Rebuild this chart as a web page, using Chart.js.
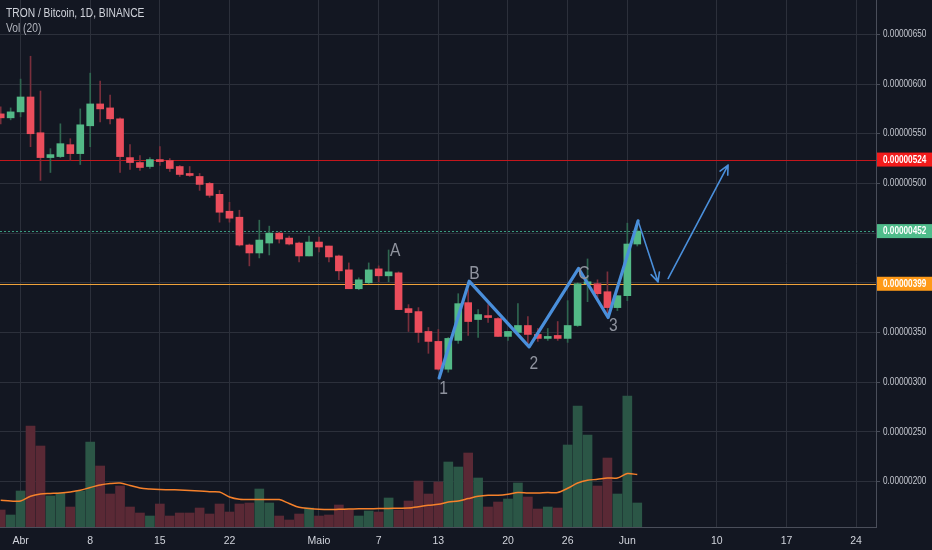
<!DOCTYPE html>
<html>
<head>
<meta charset="utf-8">
<script src="https://cdn.jsdelivr.net/npm/chart.js@4.4.1/dist/chart.umd.min.js"></script>
<style>
html,body{margin:0;padding:0;background:#131722;}
#wrap{width:932px;height:550px;}
</style>
</head>
<body>
<div id="wrap"><canvas id="chart" width="932" height="550"></canvas></div>
<script>

// daily candles from 30 Mar to 2 Jun, prices in units of 0.00000001 BTC
const opens=[570,566,572,587,551,526,527,539,530,558,580,576,565,526,521,517,524,523,517,510,507,500,489,472,466,438,430,440,450,445,440,427,441,437,427,413,394,400,414,407,410,374,371,351,341,313,342,380,363,367,364,346,350,357,348,344,347,344,357,399,399,391,375,387,439]
const highs=[577,576,605,628,593,535,560,545,575,611,603,589,566,539,528,526,537,525,518,517,510,501,493,481,473,439,463,457,451,447,441,447,446,437,428,420,405,420,417,433,411,378,375,355,353,345,389,393,373,378,365,351,379,366,354,354,361,382,400,424,403,411,387,460,462]
const lows=[560,564,567,537,503,511,526,523,519,537,562,560,511,514,513,515,518,512,507,507,493,486,461,461,437,417,425,428,440,438,421,427,431,421,403,394,393,399,401,401,373,351,340,329,312,310,339,347,345,360,346,342,350,339,341,342,342,340,356,381,383,366,372,382,437]
const closes=[566,572,587,550,526,529,540,530,559,580,575,565,527,521,516,524,522,515,509,508,499,488,471,465,438,430,443,450,444,439,427,441,436,426,412,394,403,413,407,411,373,370,350,341,313,344,379,361,368,365,346,351,357,348,344,346,344,357,399,401,389,375,387,439,452]
const volumes=[17,12,36,101,81,31,34,20,36,85,61,33,41,20,14,11,23,11,14,14,19,13,23,15,23,24,38,24,11,7,13,19,11,12,22,17,11,16,15,29,17,26,46,33,45,65,60,74,49,20,25,28,44,30,18,20,19,82,121,92,41,69,33,131,24]
const volMA=[26.7,26,26,30.7,33,33.5,34,35,36.7,39.5,42,43.5,44,41.5,39,38,37.5,37.3,37,36.5,36,35.3,35,30,27.7,27.6,27.5,27.4,27.4,23.5,19.7,18.5,17.7,17.4,17.7,18,18.2,18.3,18.4,18.6,18.8,19,20.2,21.7,22.7,25,26,28.4,30.7,31.7,31.7,32.7,34.4,34,34,34.4,34.4,38.7,44,46.7,47.7,49,49,53.4,52.4]

const tickDays=[2,9,16,23,32,38,44,51,57,63,72,79,86]
const tickLabels=["Abr","8","15","22","Maio","7","13","20","26","Jun","10","17","24"]

const levelPrices=[524,452,399]
const levelLineColors=["#c4161c","#3a9a7e","#f0a33a"]
const levelBoxColors=["#f21b1b","#4fbc8b","#ff9a18"]
const levelDashes=[[],[2,2],[]]

// drawn wave, arrows and labels (day index, price)
const waveX=[44.08,47.1,53.13,58.1,61.07,64.08]
const waveY=[304.2,401.6,335.5,414.4,365.1,462.3]
const arrowDownX=[64.08,66.09]
const arrowDownY=[462.3,400.9]
const arrowUpX=[67.1,73.13]
const arrowUpY=[404.3,518.4]
const waveLabels=["A","B","C","1","2","3"]
const waveLabelX=[39.66,47.64,58.62,44.52,53.6,61.6]
const waveLabelY=[432.5,409,409,293.2,318,356.5]

const titleText="TRON / Bitcoin, 1D, BINANCE"
const volText="Vol (20)"

const UP="#53b987",DOWN="#eb4d5c"
const FONT="'Liberation Sans',Arial,sans-serif"
const NARROW=0.82
const gridColor="#2c303b"
const axisColor="#4a4e5a"

let up=opens.map((o,i)=>closes[i]>=o)
let wickData=opens.map((o,i)=>({x:i,y:[lows[i],highs[i]]}))
let bodyData=opens.map((o,i)=>({x:i,y:[o,closes[i]]}))
let volData=volumes.map((v,i)=>({x:i,y:v}))
let maData=volMA.map((v,i)=>({x:i,y:v}))

function fmt(v){
return (v/1e8).toFixed(8)
}

// squeeze text sideways, the screenshot font is a narrow one
function narrowText(ctx,t,x,y){
ctx.save()
ctx.translate(x,y)
ctx.scale(NARROW,1)
ctx.fillText(t,0,0)
ctx.restore()
}

const background={
id:"background",
beforeDraw(chart){
let ctx=chart.ctx
ctx.save()
ctx.fillStyle="#131722"
ctx.fillRect(0,0,chart.width,chart.height)
ctx.restore()
let s=chart.scales.y
if(!s._narrow){
let draw=s.drawLabels
s.drawLabels=function(area){
let x0=this.left+4+3,r=this.right
this.right=3000
this.ctx.save()
this.ctx.translate(x0*(1-NARROW),0)
this.ctx.scale(NARROW,1)
draw.call(this,area)
this.ctx.restore()
this.right=r
}
s._narrow=true
}
}
}

function arrow(ctx,x1,y1,x2,y2){
ctx.beginPath()
ctx.moveTo(x1,y1)
ctx.lineTo(x2,y2)
let a=Math.atan2(y2-y1,x2-x1)
for(let s of [-1,1]){
ctx.moveTo(x2,y2)
ctx.lineTo(x2-10*Math.cos(a+s*0.45),y2-10*Math.sin(a+s*0.45))
}
ctx.stroke()
}

const drawings={
id:"drawings",
beforeDatasetsDraw(chart){
let {ctx,chartArea:a,scales:{y}}=chart
levelPrices.forEach((p,i)=>{
let py=Math.round(y.getPixelForValue(p))+0.5
ctx.save()
ctx.strokeStyle=levelLineColors[i]
ctx.lineWidth=1
ctx.setLineDash(levelDashes[i])
ctx.beginPath()
ctx.moveTo(a.left,py)
ctx.lineTo(a.right,py)
ctx.stroke()
ctx.restore()
})
},
afterDatasetsDraw(chart){
let {ctx,scales:{x,y}}=chart
ctx.save()
ctx.strokeStyle="#4a8fdb"
ctx.lineCap="round"
ctx.lineJoin="round"
ctx.lineWidth=3.2
ctx.beginPath()
waveX.forEach((v,i)=>{
let px=x.getPixelForValue(v),py=y.getPixelForValue(waveY[i])
if(i==0) ctx.moveTo(px,py)
else ctx.lineTo(px,py)
})
ctx.stroke()
ctx.lineWidth=1.6
arrow(ctx,x.getPixelForValue(arrowDownX[0]),y.getPixelForValue(arrowDownY[0]),x.getPixelForValue(arrowDownX[1]),y.getPixelForValue(arrowDownY[1]))
arrow(ctx,x.getPixelForValue(arrowUpX[0]),y.getPixelForValue(arrowUpY[0]),x.getPixelForValue(arrowUpX[1]),y.getPixelForValue(arrowUpY[1]))
ctx.fillStyle="#8f939e"
ctx.font="19px "+FONT
ctx.textAlign="center"
ctx.textBaseline="middle"
waveLabels.forEach((t,i)=>{
narrowText(ctx,t,x.getPixelForValue(waveLabelX[i]),y.getPixelForValue(waveLabelY[i]))
})
ctx.restore()
},
afterDraw(chart){
let {ctx,chartArea:a,scales:{y}}=chart
ctx.save()
ctx.textAlign="left"
ctx.textBaseline="middle"
levelPrices.forEach((p,i)=>{
let py=y.getPixelForValue(p)
ctx.fillStyle=levelBoxColors[i]
ctx.fillRect(a.right+1,py-7,chart.width-a.right-1,14)
ctx.fillStyle="#ffffff"
ctx.font="bold 10px "+FONT
narrowText(ctx,fmt(p),a.right+7,py+0.5)
})
ctx.fillStyle="#d1d4dc"
ctx.font="12.5px "+FONT
narrowText(ctx,titleText,6,14)
ctx.fillStyle="#b2b5be"
narrowText(ctx,volText,6,29)
ctx.restore()
}
}

new Chart(document.getElementById("chart"),{
type:"bar",
data:{
datasets:[
{label:"Vol",data:volData,yAxisID:"vol",grouped:false,barThickness:9,
backgroundColor:up.map(u=>u?"#2b5646":"#5a2935"),order:5},
{type:"line",label:"Vol MA",data:maData,yAxisID:"vol",borderColor:"#f6812b",borderWidth:1.5,
pointRadius:0,tension:0.3,order:4},
{label:"Wick",data:wickData,yAxisID:"y",grouped:false,barThickness:1,
backgroundColor:up.map(u=>u?"#2f6650":"#7a2f3c"),order:3},
{label:"Body",data:bodyData,yAxisID:"y",grouped:false,barThickness:7,minBarLength:1,
backgroundColor:up.map(u=>u?UP:DOWN),order:2}
]
},
options:{
responsive:false,
animation:false,
events:[],
layout:{padding:0},
plugins:{legend:{display:false},tooltip:{enabled:false}},
scales:{
x:{
type:"linear",min:-0.07,max:88,offset:false,
grid:{color:gridColor,offset:false,drawTicks:false},
border:{color:axisColor},
ticks:{color:"#d1d4dc",font:{family:FONT,size:10.5},padding:8,autoSkip:false,maxRotation:0,
callback:v=>{let k=tickDays.indexOf(v);return k<0?"":tickLabels[k]}},
afterBuildTicks:s=>{s.ticks=tickDays.map(v=>({value:v}))},
afterFit:s=>{s.height=23;s.paddingLeft=0;s.paddingRight=0}
},
y:{
position:"right",min:154.2,max:684.6,beginAtZero:false,
grid:{color:gridColor,drawTicks:true,tickLength:4,tickColor:axisColor},
border:{color:axisColor},
ticks:{stepSize:50,includeBounds:false,color:"#c5c8d0",font:{family:FONT,size:10},padding:3,
callback:v=>fmt(v)},
afterFit:s=>{s.width=56;s.paddingTop=0;s.paddingBottom=0}
},
vol:{
type:"linear",display:false,min:0,max:527
}
}
},
plugins:[background,drawings]
})

</script>
</body>
</html>
